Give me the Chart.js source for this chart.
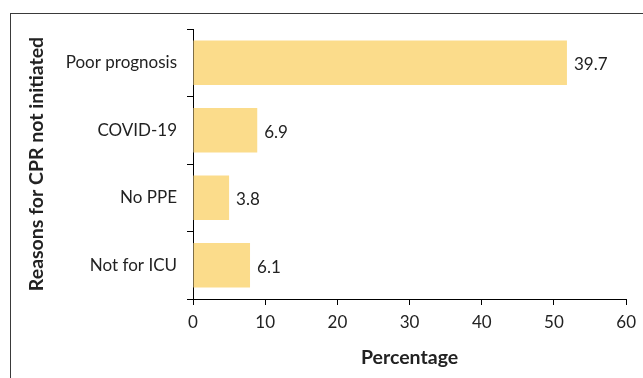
<!DOCTYPE html>
<html>
<head>
<meta charset="utf-8">
<script src="https://cdn.jsdelivr.net/npm/chart.js@4.4.1/dist/chart.umd.min.js"></script>
<style>
html,body{margin:0;padding:0;background:#fff;}
#wrap{width:643px;height:378px;position:relative;}
</style>
</head>
<body>
<div id="wrap"><canvas id="c" width="643" height="378"></canvas></div>
<script>
const categories = ["Poor prognosis", "COVID-19", "No PPE", "Not for ICU"];
const barValues = [51.8, 8.9, 5.0, 7.9];
const valueLabels = ["39.7", "6.9", "3.8", "6.1"];
const xTicks = [0, 10, 20, 30, 40, 50, 60];

const FONT = "Lato, 'Open Sans', sans-serif";
const TXT = '#222222';

const framePlugin = {
  id: 'frame',
  beforeDraw(chart) {
    const ctx = chart.ctx;
    ctx.save();
    ctx.fillStyle = '#fff';
    ctx.fillRect(0, 0, chart.width, chart.height);
    ctx.strokeStyle = '#3a3a3a';
    ctx.lineWidth = 1;
    ctx.strokeRect(10.5, 13.5, 700, 400);
    ctx.restore();
  }
};

const valueLabelPlugin = {
  id: 'valueLabels',
  afterDatasetsDraw(chart) {
    const ctx = chart.ctx;
    const meta = chart.getDatasetMeta(0);
    ctx.save();
    ctx.font = "17px " + FONT;
    ctx.fillStyle = TXT;
    ctx.textAlign = 'left';
    ctx.textBaseline = 'middle';
    meta.data.forEach((bar, i) => {
      ctx.fillText(valueLabels[i], bar.x + 7, bar.y + 2);
    });
    ctx.restore();
  }
};

new Chart(document.getElementById('c'), {
  type: 'bar',
  data: {
    labels: categories,
    datasets: [{
      data: barValues,
      backgroundColor: '#FBDC8B',
      borderWidth: 0,
      barPercentage: 0.66,
      categoryPercentage: 1.0
    }]
  },
  plugins: [framePlugin, valueLabelPlugin],
  options: {
    indexAxis: 'y',
    responsive: false,
    animation: false,
    devicePixelRatio: 1,
    layout: { padding: { left: 0, right: 14, top: 29, bottom: 0 } },
    plugins: { legend: { display: false }, tooltip: { enabled: false } },
    scales: {
      x: {
        type: 'linear',
        min: 0, max: 60,
        afterBuildTicks(scale) { scale.ticks = xTicks.map(v => ({ value: v })); },
        afterFit(scale) { scale.height = 79; },
        grid: { display: true, drawOnChartArea: false, drawTicks: true, tickLength: 6, color: '#000', lineWidth: 1 },
        border: { display: true, color: '#000', width: 1 },
        ticks: { color: TXT, font: { family: FONT, size: 17 }, padding: 7, maxRotation: 0, autoSkip: false },
        title: { display: true, text: 'Percentage', color: TXT, font: { family: FONT, size: 19.5, weight: 'bold' }, padding: { top: 0, bottom: 9 } }
      },
      y: {
        type: 'category',
        afterFit(scale) { scale.width = 193; },
        grid: { display: true, offset: true, drawOnChartArea: false, drawTicks: true, tickLength: 6, color: '#000', lineWidth: 1 },
        border: { display: true, color: '#000', width: 1 },
        ticks: { color: TXT, font: { family: FONT, size: 17 }, padding: 10 },
        title: { display: true, text: 'Reasons for CPR not initiated', color: TXT, font: { family: FONT, size: 19.5, weight: 'bold' }, padding: { top: 25, bottom: 0 } }
      }
    }
  }
});
</script>
</body>
</html>
